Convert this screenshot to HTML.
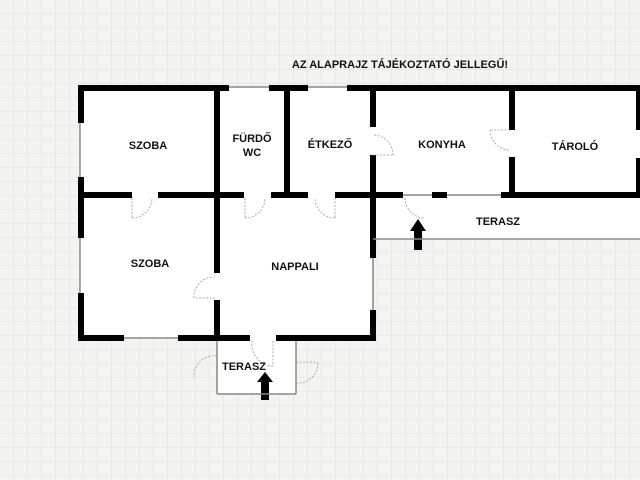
<!DOCTYPE html>
<html><head><meta charset="utf-8"><style>
body{margin:0;width:640px;height:480px;overflow:hidden;background:#f3f3f1}
svg{display:block}
text{font-family:"Liberation Sans",sans-serif;font-weight:bold;font-size:11px;fill:#111;text-anchor:middle}
</style></head><body>
<svg width="640" height="480" viewBox="0 0 640 480">
<defs><pattern id="g" width="14" height="14" patternUnits="userSpaceOnUse"><path d="M14 0V14M0 14H14" stroke="#dedede" stroke-width="1" fill="none"/></pattern></defs>
<rect width="640" height="480" fill="url(#g)"/>
<rect x="80" y="87" width="560" height="110" fill="#fff"/>
<rect x="80" y="195" width="293" height="144" fill="#fff"/>
<rect x="373" y="195" width="267" height="45" fill="#fff"/>
<rect x="217" y="339" width="79" height="55" fill="#fff"/>
<g fill="#000">
<rect x="78" y="85" width="151" height="6"/><rect x="269" y="85" width="39" height="6"/><rect x="347" y="85" width="293" height="6"/>
<rect x="78" y="85" width="6" height="38"/><rect x="78" y="177" width="6" height="61"/><rect x="78" y="293" width="6" height="48"/>
<rect x="78" y="192" width="54" height="6"/><rect x="158" y="192" width="86" height="6"/><rect x="271" y="192" width="37" height="6"/><rect x="335" y="192" width="68" height="6"/><rect x="432" y="192" width="15" height="6"/><rect x="501" y="192" width="139" height="6"/>
<rect x="214" y="85" width="6" height="188"/><rect x="214" y="300" width="6" height="41"/>
<rect x="284" y="85" width="6" height="110"/>
<rect x="370" y="85" width="6" height="42"/><rect x="370" y="155" width="6" height="103"/>
<rect x="509" y="85" width="6" height="45"/><rect x="509" y="157" width="6" height="40"/>
<rect x="636" y="85" width="4" height="45"/><rect x="636" y="158" width="4" height="40"/>
<rect x="78" y="335" width="46" height="6"/><rect x="178" y="335" width="72" height="6"/><rect x="276" y="335" width="100" height="6"/>
<rect x="370" y="310" width="6" height="31"/>
<rect x="261" y="381" width="8" height="19"/><polygon points="257,382 265,372 273,382"/>
<rect x="414" y="230" width="8" height="20"/><polygon points="410,231 418,219 426,231"/>
</g>
<g stroke="#888" stroke-width="1.5" fill="none">
<line x1="373" y1="239" x2="640" y2="239"/>
<line x1="217" y1="341" x2="217" y2="394"/><line x1="296" y1="341" x2="296" y2="394"/><line x1="217" y1="394" x2="296" y2="394"/>
<line x1="373" y1="258" x2="373" y2="310"/>
<line x1="229" y1="87" x2="269" y2="87"/><line x1="308" y1="87" x2="347" y2="87"/>
<line x1="403" y1="195" x2="432" y2="195"/><line x1="447" y1="195" x2="501" y2="195"/>
<line x1="124" y1="338" x2="178" y2="338"/>
<line x1="80" y1="123" x2="80" y2="177"/><line x1="80" y1="238" x2="80" y2="293"/>
</g>
<g stroke="#999" stroke-width="0.8" fill="none" stroke-dasharray="2,1.5">
<path d="M132 198 V218 M132 218 A20 20 0 0 0 152 198"/>
<path d="M245 198 V218 M245 218 A20 20 0 0 0 265 198"/>
<path d="M335 198 V218 M335 218 A20 20 0 0 1 315 198"/>
<path d="M373 155 H393 M393 155 A20 20 0 0 0 373 135"/>
<path d="M510 130 H490 M490 130 A20 20 0 0 0 510 150"/>
<path d="M405 198 A20 20 0 0 0 425 218"/>
<path d="M215 298 H194 M194 298 A20 20 0 0 1 215 277"/>
<path d="M273 341 V366 M273 366 A22 22 0 0 1 252 341"/>
<path d="M217 356 A20 20 0 0 0 194 377"/>
<path d="M296 362 H318 M296 383 A20 20 0 0 0 318 362"/>
</g>
<text x="400" y="68">AZ ALAPRAJZ TÁJÉKOZTATÓ JELLEGŰ!</text>
<text x="148" y="149">SZOBA</text>
<text x="252" y="142">FÜRDŐ</text><text x="252" y="156">WC</text>
<text x="330" y="148">ÉTKEZŐ</text>
<text x="442" y="148">KONYHA</text>
<text x="575" y="150">TÁROLÓ</text>
<text x="498" y="225">TERASZ</text>
<text x="150" y="267">SZOBA</text>
<text x="295" y="270">NAPPALI</text>
<text x="244" y="370">TERASZ</text>
</svg>
</body></html>
